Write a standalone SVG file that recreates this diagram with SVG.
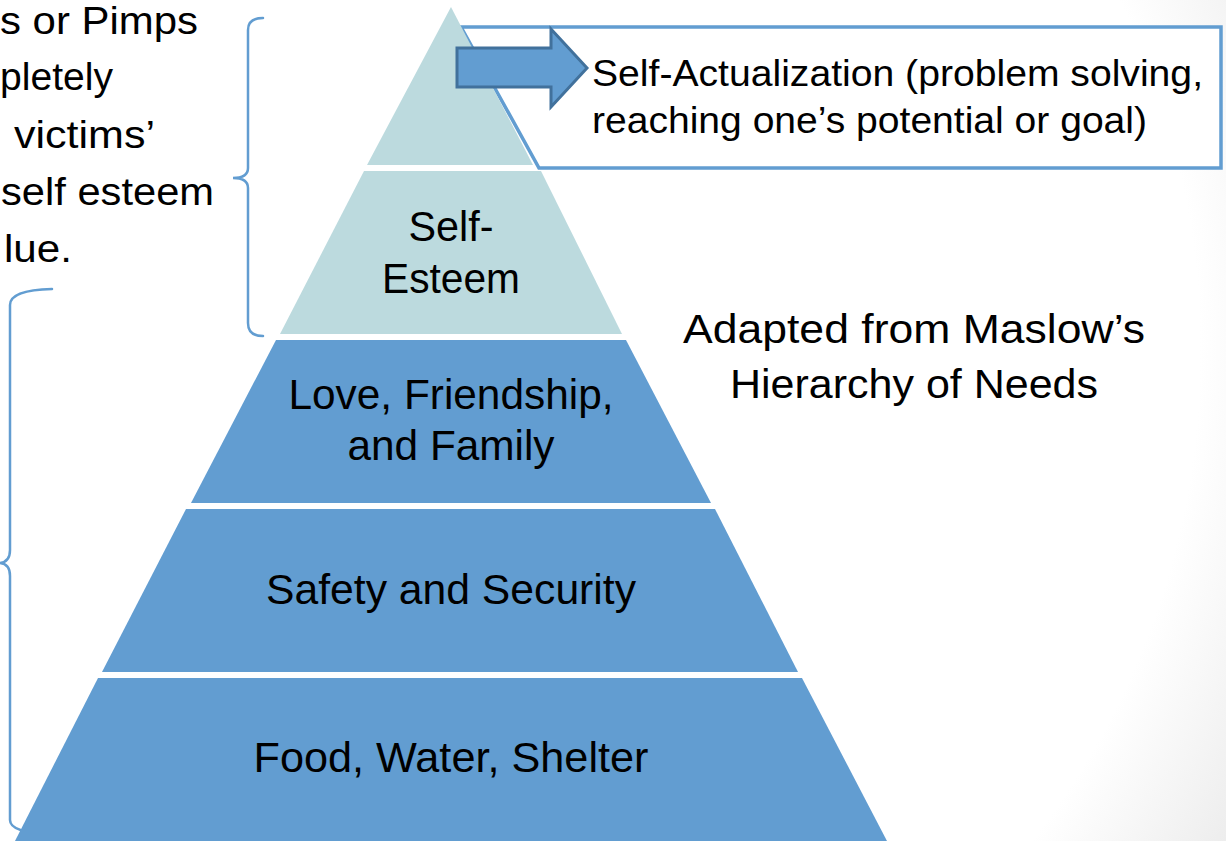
<svg xmlns="http://www.w3.org/2000/svg" width="1226" height="841" viewBox="0 0 1226 841">
<defs>
<radialGradient id="bg" gradientUnits="userSpaceOnUse" cx="400" cy="350" r="1000">
<stop offset="0" stop-color="#ffffff"/>
<stop offset="0.8" stop-color="#ffffff"/>
<stop offset="0.97" stop-color="#ececec"/>
<stop offset="1" stop-color="#e9e9e9"/>
</radialGradient>
<style>
.t{font-family:"Liberation Sans",Arial,sans-serif;fill:#000;}
.pt{font-size:42px;text-anchor:middle;}
.lt{font-size:39px;}
.light{fill:#BCDADE;}
.dark{fill:#629DD1;}
.brace{fill:none;stroke:#629DD1;stroke-width:2.5;stroke-linecap:round;}
</style>
</defs>
<rect x="0" y="0" width="1226" height="841" fill="url(#bg)"/>

<g id="left-text">
<text class="t lt" x="0" y="34" textLength="198" lengthAdjust="spacingAndGlyphs">s or Pimps</text>
<text class="t lt" x="0" y="90" textLength="113" lengthAdjust="spacingAndGlyphs">pletely</text>
<text class="t lt" x="14" y="148" textLength="141" lengthAdjust="spacingAndGlyphs">victims’</text>
<text class="t lt" x="1" y="205" textLength="213" lengthAdjust="spacingAndGlyphs">self esteem</text>
<text class="t lt" x="4" y="262" textLength="68" lengthAdjust="spacingAndGlyphs">lue.</text>
</g>

<g id="connectors">
<path class="brace" d="M263,18 Q248,18 248,30 L248,168 Q248,178 233,178 Q248,178 248,188 L248,323 Q248,336 263,336"/>
<path class="brace" d="M52,289 Q10,290 10,305 L10,550 Q10,563 -2,563 Q10,563 10,576 L10,820 Q10,833 52,834"/>
</g>

<g id="actualization-box">
<polygon points="461,27 1221,27 1221,168 539,168" fill="#ffffff" stroke="#629DD1" stroke-width="3.5" stroke-linejoin="miter"/>
<text class="t" font-size="37" x="592" y="86" textLength="611" lengthAdjust="spacingAndGlyphs">Self-Actualization (problem solving,</text>
<text class="t" font-size="37" x="592" y="133" textLength="555" lengthAdjust="spacingAndGlyphs">reaching one’s potential or goal)</text>
</g>

<g id="tier-1">
<polygon class="light" points="451,7 533,165 367,165"/>
</g>
<g id="tier-2">
<polygon class="light" points="364,171 541,171 622,334 280,334"/>
<text class="t pt" x="451" y="241" textLength="85" lengthAdjust="spacingAndGlyphs">Self-</text>
<text class="t pt" x="451" y="293" textLength="138" lengthAdjust="spacingAndGlyphs">Esteem</text>
</g>
<g id="tier-3">
<polygon class="dark" points="276,340 626,340 711,503 191,503"/>
<text class="t pt" x="451" y="409" textLength="325" lengthAdjust="spacingAndGlyphs">Love, Friendship,</text>
<text class="t pt" x="451" y="460" textLength="207" lengthAdjust="spacingAndGlyphs">and Family</text>
</g>
<g id="tier-4">
<polygon class="dark" points="186,509 715,509 798,672 102,672"/>
<text class="t pt" x="451" y="604" textLength="370" lengthAdjust="spacingAndGlyphs">Safety and Security</text>
</g>
<g id="tier-5">
<polygon class="dark" points="98,678 802,678 887,841 15,841"/>
<text class="t pt" x="451" y="772" textLength="395" lengthAdjust="spacingAndGlyphs">Food, Water, Shelter</text>
</g>

<g id="arrow">
<polygon points="457,48 551,48 551,29 587,68 551,107 551,87 457,87" fill="#629DD1" stroke="#41719C" stroke-width="3" stroke-linejoin="miter"/>
</g>

<g id="caption">
<text class="t" font-size="41" x="914" y="343" text-anchor="middle" textLength="462" lengthAdjust="spacingAndGlyphs">Adapted from Maslow’s</text>
<text class="t" font-size="41" x="914" y="398" text-anchor="middle" textLength="368" lengthAdjust="spacingAndGlyphs">Hierarchy of Needs</text>
</g>
</svg>
